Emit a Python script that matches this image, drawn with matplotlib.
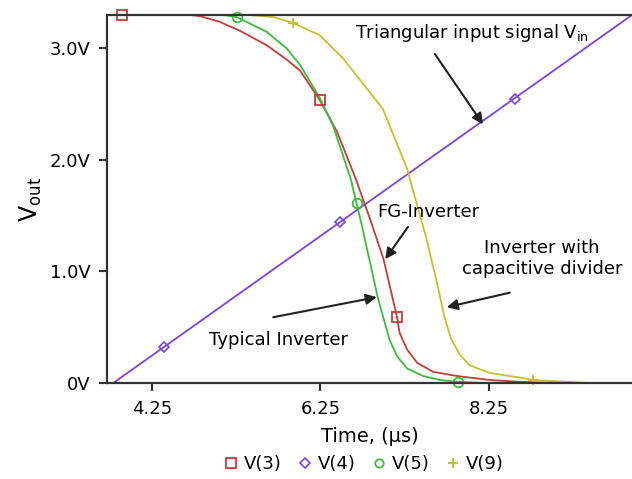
import matplotlib
matplotlib.use('Agg')
import matplotlib.pyplot as plt
from matplotlib.lines import Line2D

plt.rcParams['font.family'] = 'DejaVu Sans'

# V(3) - FG inverter (red)
t_v3 = [3.716, 4.70, 4.82, 5.05, 5.29, 5.61, 5.85, 6.01, 6.24, 6.45, 6.67, 6.84, 7.00, 7.16, 7.19, 7.28, 7.40, 7.59, 7.87, 8.26, 8.65, 9.00, 9.95]
v_v3 = [3.30, 3.30, 3.29, 3.24, 3.16, 3.03, 2.90, 2.80, 2.54, 2.25, 1.83, 1.47, 1.11, 0.59, 0.45, 0.30, 0.18, 0.10, 0.063, 0.027, 0.01, 0.0, 0.0]
mk_t_v3 = [3.89, 6.24, 7.16]
mk_v_v3 = [3.30, 2.54, 0.59]

# V(4) - triangular input (purple)
t_v4 = [3.79, 9.95]
v_v4 = [0.0, 3.30]
mk_t_v4 = [4.39, 6.48, 8.56]
mk_v_v4 = [0.32, 1.44, 2.55]

# V(5) - typical inverter (green)
t_v5 = [3.716, 5.10, 5.26, 5.61, 5.85, 6.01, 6.24, 6.40, 6.61, 6.68, 6.74, 6.93, 7.07, 7.16, 7.28, 7.47, 7.67, 7.88, 8.20, 9.95]
v_v5 = [3.30, 3.30, 3.28, 3.15, 3.00, 2.85, 2.56, 2.31, 1.83, 1.61, 1.42, 0.77, 0.39, 0.24, 0.13, 0.063, 0.027, 0.01, 0.0, 0.0]
mk_t_v5 = [5.26, 6.68, 7.88]
mk_v_v5 = [3.28, 1.61, 0.01]

# V(9) - inverter with capacitive divider (yellow)
t_v9 = [3.716, 5.40, 5.70, 5.92, 6.24, 6.52, 6.99, 7.28, 7.51, 7.64, 7.72, 7.80, 7.90, 8.02, 8.26, 8.65, 8.77, 9.45, 9.95]
v_v9 = [3.30, 3.30, 3.28, 3.23, 3.12, 2.91, 2.46, 1.92, 1.29, 0.88, 0.60, 0.40, 0.26, 0.16, 0.09, 0.045, 0.027, 0.0, 0.0]
mk_t_v9 = [5.92, 8.77]
mk_v_v9 = [3.23, 0.027]

x_ticks = [4.25, 6.25, 8.25]
x_tick_labels = ['4.25', '6.25', '8.25']
y_ticks = [0, 1.0, 2.0, 3.0]
y_tick_labels = ['0V', '1.0V', '2.0V', '3.0V']

red = '#c43c3c'
purple = '#7b42e6'
green = '#3cbb3c'
yellow = '#c8bf32'

fig = plt.figure(figsize=(6.32, 4.79), dpi=100)
ax = fig.add_axes([0.1693, 0.2004, 0.8307, 0.7683])

ax.plot(t_v4, v_v4, color=purple, lw=1.3, clip_on=False)
ax.plot(t_v9, v_v9, color=yellow, lw=1.3, clip_on=False)
ax.plot(t_v3, v_v3, color=red, lw=1.3, clip_on=False)
ax.plot(t_v5, v_v5, color=green, lw=1.3, clip_on=False)

ax.plot(mk_t_v4, mk_v_v4, ls='none', marker='D', ms=5, mfc='none', mec=purple, mew=1.2, clip_on=False)
ax.plot(mk_t_v9, mk_v_v9, ls='none', marker='+', ms=7, mec=yellow, mew=1.4, clip_on=False)
ax.plot(mk_t_v3, mk_v_v3, ls='none', marker='s', ms=7, mfc='none', mec=red, mew=1.3, clip_on=False)
ax.plot(mk_t_v5, mk_v_v5, ls='none', marker='o', ms=7, mfc='none', mec=green, mew=1.3, clip_on=False)

ax.set_xlim(3.716, 9.95)
ax.set_ylim(0, 3.30)
ax.set_xticks(x_ticks)
ax.set_xticklabels(x_tick_labels)
ax.set_yticks(y_ticks)
ax.set_yticklabels(y_tick_labels)
ax.tick_params(direction='out', length=6, width=1.5, color='#333333', labelsize=13, pad=6)

for side in ['left', 'bottom', 'top']:
    ax.spines[side].set_color('#333333')
    ax.spines[side].set_linewidth(1.6)
ax.spines['right'].set_visible(False)

ax.set_xlabel('Time, (\u00b5s)', fontsize=14, labelpad=7)
ax.set_ylabel('V$_{\\mathregular{out}}$', fontsize=17, labelpad=4)

arrow = dict(arrowstyle='-|>', color='#222222', lw=1.5, mutation_scale=16, shrinkA=0, shrinkB=0)

ax.text(6.66, 3.14, 'Triangular input signal V$_{\\mathregular{in}}$', fontsize=13, ha='left', va='center')
ax.annotate('', xy=(8.18, 2.32), xytext=(7.61, 2.95), arrowprops=arrow)

ax.text(6.92, 1.53, 'FG-Inverter', fontsize=13, ha='left', va='center')
ax.annotate('', xy=(7.02, 1.11), xytext=(7.29, 1.40), arrowprops=arrow)

ax.text(8.88, 1.12, 'Inverter with\ncapacitive divider', fontsize=13, ha='center', va='center', linespacing=1.2)
ax.annotate('', xy=(7.75, 0.68), xytext=(8.50, 0.81), arrowprops=arrow)

ax.text(4.93, 0.39, 'Typical Inverter', fontsize=13, ha='left', va='center')
ax.annotate('', xy=(6.92, 0.77), xytext=(5.69, 0.59), arrowprops=arrow)

handles = [
    Line2D([], [], ls='none', marker='s', ms=7, mfc='none', mec=red, mew=1.3),
    Line2D([], [], ls='none', marker='D', ms=5, mfc='none', mec=purple, mew=1.2),
    Line2D([], [], ls='none', marker='o', ms=6, mfc='none', mec=green, mew=1.3),
    Line2D([], [], ls='none', marker='+', ms=7, mec=yellow, mew=1.4),
]
fig.legend(handles, ['V(3)', 'V(4)', 'V(5)', 'V(9)'], loc='lower center',
           bbox_to_anchor=(0.576, -0.022), ncol=4, frameon=False, fontsize=13,
           handlelength=0.8, handletextpad=0.3, columnspacing=0.9)

fig.savefig('out.png', dpi=100)
